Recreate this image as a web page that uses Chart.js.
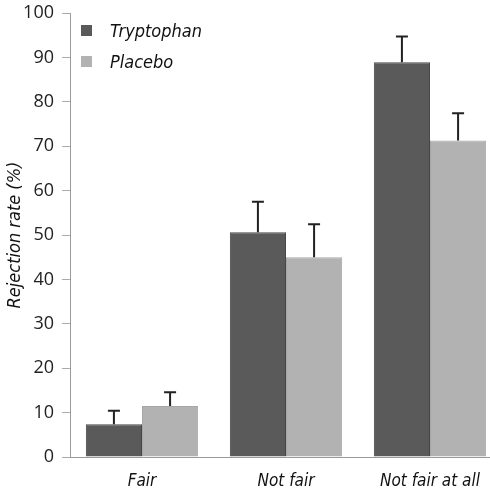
<!DOCTYPE html>
<html lang="en">
  <head>
    <meta charset="UTF-8" />
    <title>Rejection rate</title>
    <script src="https://cdn.jsdelivr.net/npm/chart.js"></script>
    <style>
      html, body { margin: 0; padding: 0; background: #fff; overflow: hidden; }
      #wrap { width: 502px; height: 495px; }
    </style>
  </head>
  <body>
    <div id="wrap"><canvas id="barChart" width="502" height="495"></canvas></div>

    <script>
      // data
      const categories = ["Fair", "Not fair", "Not fair at all"];
      const tryptophan = [7.4, 50.6, 88.9];
      const tryptophanErr = [3.0, 6.9, 5.8];
      const placebo = [11.5, 45.0, 71.3];
      const placeboErr = [3.1, 7.4, 6.1];
      const yTicks = [0, 10, 20, 30, 40, 50, 60, 70, 80, 90, 100];

      const scriptFont = "'Liberation Sans Narrow', 'DejaVu Sans Condensed', sans-serif";

      // upward error bars with a small cap
      const errorBars = {
        id: "errorBars",
        afterDatasetsDraw(chart) {
          const ctx = chart.ctx;
          const y = chart.scales.y;
          ctx.save();
          ctx.strokeStyle = "#222";
          ctx.lineWidth = 2;
          chart.data.datasets.forEach((ds, i) => {
            const meta = chart.getDatasetMeta(i);
            meta.data.forEach((bar, j) => {
              const top = y.getPixelForValue(ds.data[j] + ds.errors[j]);
              ctx.beginPath();
              ctx.moveTo(bar.x, bar.y);
              ctx.lineTo(bar.x, top);
              ctx.moveTo(bar.x - 6, top);
              ctx.lineTo(bar.x + 6, top);
              ctx.stroke();
            });
          });
          ctx.restore();
        },
      };

      // legend drawn inside the plot, top left
      const innerLegend = {
        id: "innerLegend",
        afterDraw(chart) {
          const ctx = chart.ctx;
          const left = chart.chartArea.left;
          ctx.save();
          chart.data.datasets.forEach((ds, i) => {
            const cy = 30 + i * 31;
            ctx.fillStyle = ds.backgroundColor;
            ctx.fillRect(left + 11, cy - 5, 11, 11);
            ctx.fillStyle = "#111";
            ctx.font = "italic 18px " + scriptFont;
            ctx.textBaseline = "middle";
            ctx.fillText(ds.label, left + 40, cy + 2);
          });
          ctx.restore();
        },
      };

      const ctx = document.getElementById("barChart").getContext("2d");
      new Chart(ctx, {
        type: "bar",
        data: {
          labels: categories,
          datasets: [
            {
              label: "Tryptophan",
              data: tryptophan,
              errors: tryptophanErr,
              backgroundColor: "#5a5a5a",
              borderColor: "#474747",
              borderWidth: 1,
            },
            {
              label: "Placebo",
              data: placebo,
              errors: placeboErr,
              backgroundColor: "#b2b2b2",
              borderColor: "#a6a6a6",
              borderWidth: 1,
            },
          ],
        },
        options: {
          responsive: false,
          animation: false,
          layout: { padding: { top: 13, right: 0, left: 5, bottom: 0 } },
          plugins: { legend: { display: false }, tooltip: { enabled: false } },
          datasets: { bar: { categoryPercentage: 0.78, barPercentage: 1.0 } },
          scales: {
            x: {
              grid: { display: false },
              border: { color: "#9a9a9a", width: 1 },
              ticks: {
                color: "#111",
                font: { family: scriptFont, style: "italic", size: 17 },
                padding: 6,
              },
              afterFit(scale) { scale.height = 38; scale.paddingLeft = 0; scale.paddingRight = 0; },
            },
            y: {
              min: 0,
              max: 100,
              afterBuildTicks(scale) { scale.ticks = yTicks.map(v => ({ value: v })); },
              grid: { drawOnChartArea: false, drawTicks: true, tickLength: 8, color: "#aaa" },
              border: { color: "#9a9a9a", width: 1 },
              ticks: {
                color: "#222",
                font: { family: "'Open Sans', sans-serif", size: 18 },
                padding: 8,
              },
              title: {
                display: true,
                text: "Rejection rate (%)",
                color: "#111",
                font: { family: scriptFont, style: "italic", size: 18 },
                padding: { top: 0, bottom: 0 },
              },
              afterFit(scale) { scale.width = 65; scale.paddingTop = 0; scale.paddingBottom = 0; },
            },
          },
        },
        plugins: [errorBars, innerLegend],
      });
    </script>
  </body>
</html>
